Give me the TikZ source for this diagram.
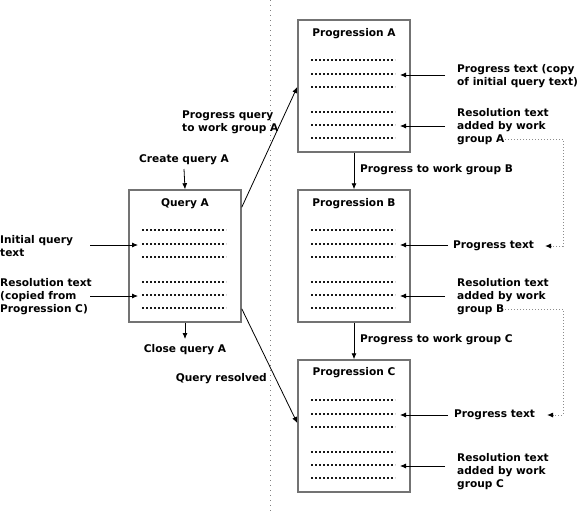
\documentclass[tikz,border=0pt]{standalone}
\usepackage{fontspec}
\setmainfont{DejaVu Sans}
\usetikzlibrary{arrows.meta,calc}
\begin{document}
\begin{tikzpicture}[x=1pt,y=-1pt,
  every node/.style={font=\fontsize{10.6}{13}\selectfont\bfseries, inner sep=0pt, align=left},
  docbox/.style={draw=black!55, line width=1.5pt, fill=white, minimum width=112pt, minimum height=132pt},
  dotrow/.style={line width=2pt, dash pattern=on 2pt off 2pt, black!90},
  arr/.style={-{Latex[length=6pt,width=5pt]}, line width=0.8pt},
  darr/.style={-{Latex[length=6pt,width=5pt,black]}, line width=1pt, black!45, dash pattern=on 1pt off 2pt},
  sep/.style={black!50, line width=1pt, dash pattern=on 1pt off 4pt}
]
\useasboundingbox (0,0) rectangle (580,512);
\fill[white] (0,0) rectangle (580,512);

% separator
\coordinate (sepT) at (270.5,0);
\coordinate (sepB) at (270.5,512);
\draw[sep] (sepT) -- (sepB);

% boxes
\node[docbox] (qa) at (185,256) {};
\node[docbox] (pa) at (354,86) {};
\node[docbox] (pb) at (354,256) {};
\node[docbox] (pc) at (354,426) {};

\node (qaT) at ($(qa.north)+(0,14)$) {Query A};
\node (paT) at ($(pa.north)+(0,14)$) {Progression A};
\node (pbT) at ($(pb.north)+(0,14)$) {Progression B};
\node (pcT) at ($(pc.north)+(0,13)$) {Progression C};

\foreach \b in {qa,pa,pb,pc}{
  \foreach \o in {41,55,68,93,106,119}{
    \draw[dotrow] ($(\b.north west)+(14,\o)$) -- ++(84,0);
  }
}

% Query A side
\node[anchor=west] (lInit) at (0,246) {Initial query\\text};
\coordinate (sInit) at (90,245);
\coordinate (tInit) at (138,245);
\draw[arr] (sInit) -- (tInit);

\node[anchor=west] (lResQ) at (0,296.5) {Resolution text\\(copied from\\Progression C)};
\coordinate (sResQ) at (90,296);
\coordinate (tResQ) at (138,296);
\draw[arr] (sResQ) -- (tResQ);

\node (lCreate) at (184,160) {Create query A};
\coordinate (sCreate) at (184,169);
\draw[arr] (sCreate) -- (qa.north);

\node (lClose) at (185,350) {Close query A};
\coordinate (tClose) at (185,339);
\draw[arr] (qa.south) -- (tClose);

\node[anchor=west] (lPQ) at (182,122.5) {Progress query\\to work group A};
\draw[arr] ([yshift=-18pt]qa.north east) -- ([yshift=-1pt]pa.west);

\node[anchor=east] (lResolved) at (267,379) {Query resolved};
\draw[arr] ([yshift=14pt]qa.south east) -- ([yshift=3pt]pc.west);

% Progression A
\node[anchor=west] (lPTA) at (457,76.5) {Progress text (copy\\of initial query text)};
\coordinate (sPTA) at (445,75);
\coordinate (tPTA) at (400,75);
\draw[arr] (sPTA) -- (tPTA);

\node[anchor=west] (lRTA) at (457,126.5) {Resolution text\\added by work\\group A};
\coordinate (sRTA) at (445,126);
\coordinate (tRTA) at (400,126);
\draw[arr] (sRTA) -- (tRTA);

\node[anchor=west] (lPB) at (360,170) {Progress to work group B};
\draw[arr] (pa.south) -- (pb.north);

% Progression B
\node[anchor=west] (lPTB) at (453,246) {Progress text};
\coordinate (sPTB) at (448,245);
\coordinate (tPTB) at (400,245);
\draw[arr] (sPTB) -- (tPTB);

\node[anchor=west] (lRTB) at (457,296.5) {Resolution text\\added by work\\group B};
\coordinate (sRTB) at (445,296);
\coordinate (tRTB) at (400,296);
\draw[arr] (sRTB) -- (tRTB);

\node[anchor=west] (lPC) at (360,340) {Progress to work group C};
\draw[arr] (pb.south) -- (pc.north);

% Progression C
\node[anchor=west] (lPTC) at (454,415) {Progress text};
\coordinate (sPTC) at (448,415);
\coordinate (tPTC) at (400,415);
\draw[arr] (sPTC) -- (tPTC);

\node[anchor=west] (lRTC) at (457,472) {Resolution text\\added by work\\group C};
\coordinate (sRTC) at (445,466);
\coordinate (tRTC) at (400,466);
\draw[arr] (sRTC) -- (tRTC);

% dotted feedback connectors
\coordinate (dA) at (505,139);
\coordinate (dAe) at (545,246);
\draw[darr] (dA) -- (563,139) -- (563,246) -- (dAe);

\coordinate (dB) at (505,309);
\coordinate (dBe) at (547,415);
\draw[darr] (dB) -- (563,309) -- (563,415) -- (dBe);
\end{tikzpicture}
\end{document}
